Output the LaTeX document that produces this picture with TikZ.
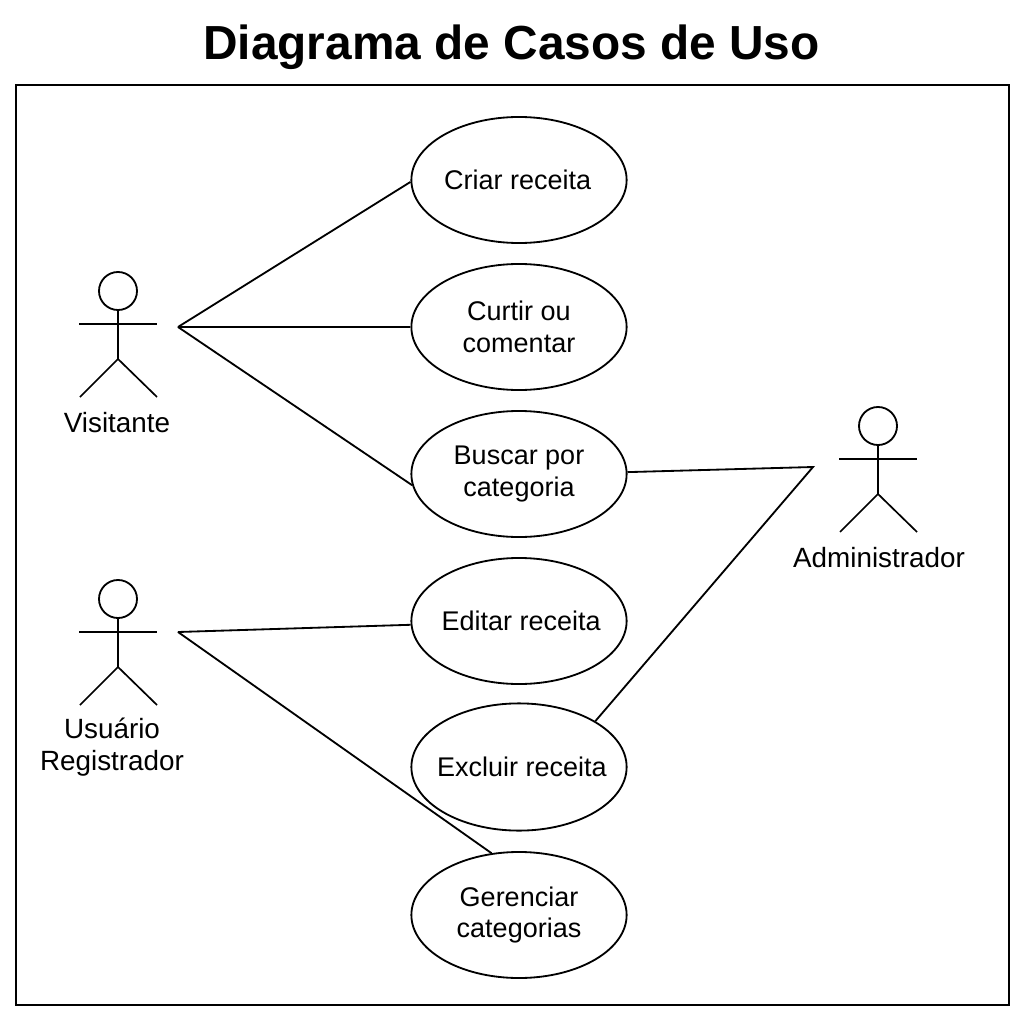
\documentclass[tikz,border=0pt]{standalone}
\usepackage{fontspec}
\setmainfont{Liberation Sans}
\usetikzlibrary{shapes.geometric}
\tikzset{
 usecase/.style={ellipse,draw=black,line width=1.3pt,minimum width=5.38cm,minimum height=3.15cm,inner sep=-2cm,align=center,font=\fontsize{19.2}{22.5}\selectfont},
 lbl/.style={align=center,font=\fontsize{19.8}{23}\selectfont},
 line/.style={draw=black,line width=1.3pt},
 limb/.style={draw=black,line width=1.2pt},
}
% 1px = 0.025cm; the y axis runs downward
\newcommand{\actorfig}[3]{%
 \node[circle,draw=black,line width=1.3pt,minimum size=0.95cm,inner sep=0pt] (#1h) at (#2,#3) {};
 \coordinate (#1w) at (#2,#3+68);
 \coordinate (#1l) at (#2-38,#3+106);
 \coordinate (#1r) at (#2+39,#3+106);
 \coordinate (#1a) at (#2-39,#3+33);
 \coordinate (#1b) at (#2+39,#3+33);
 \draw[limb] (#1h.south) -- (#1w);
 \draw[limb] (#1a) -- (#1b);
 \draw[limb] (#1l) -- (#1w) -- (#1r);
}
\begin{document}
\begin{tikzpicture}[x=0.025cm,y=-0.025cm]
\useasboundingbox (0,0) rectangle (1024,1024);
\node[font=\bfseries\fontsize{34}{40}\selectfont] (title) at (511.5,47) {Diagrama de Casos de Uso};
\node[draw=black,line width=1.5pt,minimum width=24.825cm,minimum height=23cm,inner sep=0pt] (frame) at (512.5,545) {};
\node[usecase] (criar) at (519,180) {\kern-2pt Criar receita};
\node[usecase] (curtir) at (519,327) {Curtir ou\\comentar};
\node[usecase] (buscar) at (519,474) {Buscar por\\categoria};
\node[usecase] (editar) at (519,621) {\kern3pt Editar receita};
\node[usecase,minimum height=3.18cm] (excluir) at (519,767) {\kern4pt Excluir receita};
\node[usecase] (gerenciar) at (519,915) {Gerenciar\\categorias};
\actorfig{v}{118}{291}
\actorfig{u}{118}{599}
\actorfig{a}{878}{426}
\node[lbl] (vl) at (117,423) {Visitante};
\node[lbl] (ul) at (112,747) {Usuário\\Registrador};
\node[lbl] (al) at (879,558) {Administrador};
\coordinate (vc) at (178,327);
\coordinate (uc) at (178,632);
\coordinate (ac) at (813,467);
\draw[line] (vc) -- (criar.181.6);
\draw[line] (vc) -- (curtir.west);
\draw[line] (vc) -- (buscar.186);
\draw[line] (uc) -- (editar.182);
\draw[line] (uc) -- (gerenciar.114.7);
\draw[line] (buscar.1.6) -- (ac) -- (excluir.31.9);
\end{tikzpicture}
\end{document}
